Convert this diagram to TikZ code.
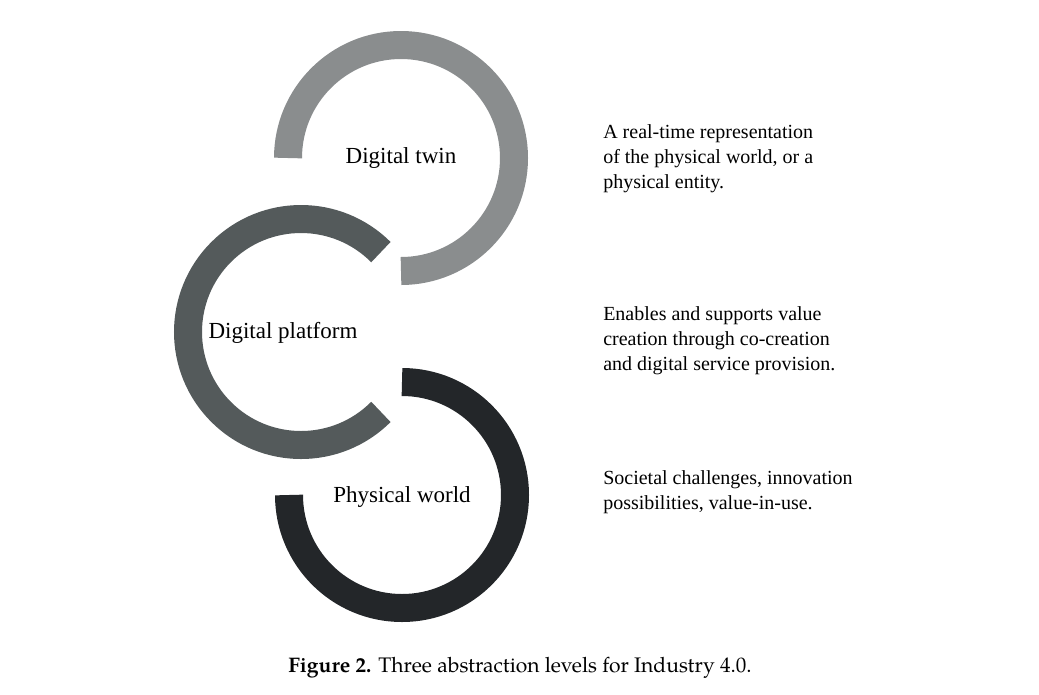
\documentclass[tikz,border=0pt]{standalone}
\usepackage{fontspec}
\setmainfont{Liberation Serif}
\newfontfamily\capfont{TeX Gyre Pagella}
\begin{document}
\begin{tikzpicture}[x=0.75pt,y=0.75pt,
  ring/.style={line width=21pt,line cap=butt},
  lbl/.style={font=\fontsize{17.25pt}{20pt}\selectfont,anchor=base,inner sep=0pt},
  desc/.style={font=\fontsize{15pt}{18.75pt}\selectfont,anchor=base west,align=left,inner sep=0pt}]
\definecolor{twinc}{HTML}{8A8D8E}
\definecolor{platc}{HTML}{545A5B}
\definecolor{physc}{HTML}{232629}
\fill[white] (0,0) rectangle (1039,-694);
\useasboundingbox (0,0) rectangle (1039,-694);
% rings
\draw[ring,twinc] (401,-158) ++(180:113) arc (180:-90:113);
\draw[ring,platc] (301,-332) ++(45:113) arc (45:315:113);
\draw[ring,physc] (402,-495) ++(90:113) arc (90:-180:113);
% labels
\node[lbl] (twin) at (401,-163) {Digital twin};
\node[lbl] (plat) at (283,-338) {Digital platform};
\node[lbl] (phys) at (402,-502) {Physical world};
% descriptions (anchored at the baseline of their last line)
\node[desc] (dtwin) at (603,-188) {A real-time representation\\of the physical world, or a\\physical entity.};
\node[desc] (dplat) at (603,-370) {Enables and supports value\\creation through co-creation\\and digital service provision.};
\node[desc] (dphys) at (603,-509) {Societal challenges, innovation\\possibilities, value-in-use.};
% caption
\node[font=\capfont\fontsize{15.8pt}{18pt}\selectfont,anchor=base,inner sep=0pt] (cap) at (520,-672) {\textbf{Figure 2.} Three abstraction levels for Industry 4.0.};
\end{tikzpicture}
\end{document}
